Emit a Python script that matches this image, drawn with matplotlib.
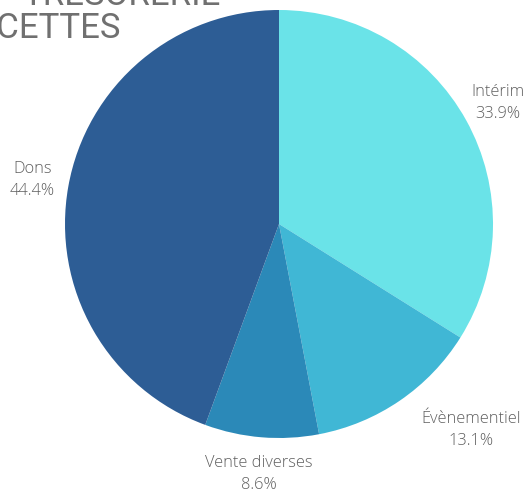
import matplotlib.pyplot as plt

# données
categories = ["Intérim", "Évènementiel", "Vente diverses", "Dons"]
valeurs = [33.9, 13.1, 8.6, 44.4]
couleurs = ["#6ae3e8", "#40b7d5", "#2b89b8", "#2d5d95"]

W, H = 523, 492
fig = plt.figure(figsize=(W / 100, H / 100), dpi=100)

# pie centre (279, 224) px, rayon 214 px
cx, cy, r = 279, 224, 214
ax = fig.add_axes([(cx - r) / W, (H - cy - r) / H, 2 * r / W, 2 * r / H])

labels = [f"{c}\n{v:.1f}%" for c, v in zip(categories, valeurs)]
wedges, texts = ax.pie(
    valeurs, labels=labels, colors=couleurs, startangle=90, counterclock=False,
    labeldistance=1.17, wedgeprops=dict(linewidth=0),
    textprops=dict(fontsize=11.8, color="#5f5f5f", family="Open Sans",
                   fontweight="light", ha="center", va="center",
                   linespacing=1.5),
)
for t in texts:
    t.set_horizontalalignment("center")
    t.set_clip_on(False)
# Évènementiel décalé vers la droite
x, y = texts[1].get_position()
texts[1].set_position((x + 0.235, y + 0.005))

ax.set_xlim(-1, 1)
ax.set_ylim(-1, 1)
ax.set_aspect("equal")
ax.axis("off")

# titre (coupé à gauche comme sur l'original)
fig.text(221 / W, 1 - 5 / H, "TRÉSORERIE", ha="right", va="baseline",
         fontsize=25, color="#707070", family="Roboto")
fig.text(121 / W, 1 - 38 / H, "RECETTES", ha="right", va="baseline",
         fontsize=25, color="#707070", family="Roboto")

fig.savefig("out.png", dpi=100)
